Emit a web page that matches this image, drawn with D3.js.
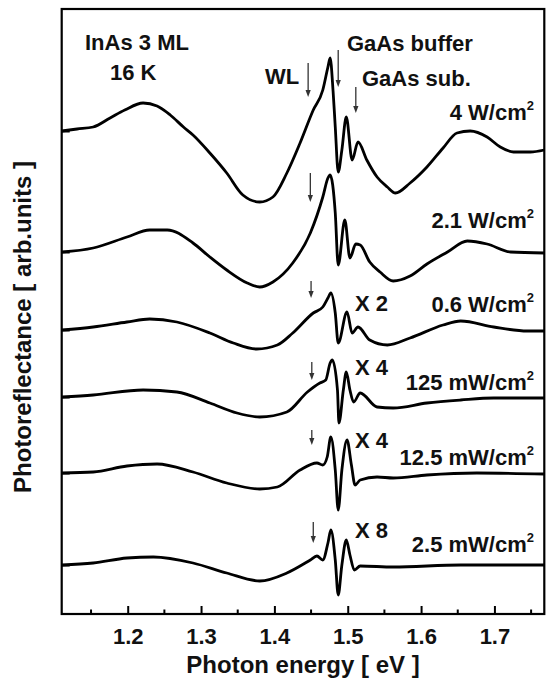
<!DOCTYPE html>
<html><head><meta charset="utf-8">
<script src="https://cdn.jsdelivr.net/npm/d3@7"></script>
<style>
html,body{margin:0;padding:0;background:#fff;}
svg text{font-family:"Liberation Sans",Arial,Helvetica,sans-serif;font-weight:bold;fill:#111;}
</style></head>
<body>
<svg id="chart" width="546" height="682"></svg>
<script>
// ---------------- data ----------------
const xTicks = [1.2, 1.3, 1.4, 1.5, 1.6, 1.7];
const powerLabels = ["4 W/cm", "2.1 W/cm", "0.6 W/cm", "125 mW/cm", "12.5 mW/cm", "2.5 mW/cm"];
const scaleLabels = ["", "", "X 2", "X 4", "X 4", "X 8"];
// zero level (offset) of each spectrum, arb. units
const offsets = [48.3, 36.2, 28.4, 21.7, 14.1, 4.9];

// spectra: [photon energy (eV), photoreflectance (arb. units, relative to offset)]
const spec4W = [[1.110,0.0],[1.131,0.2],[1.153,0.4],[1.176,1.3],[1.196,2.1],[1.221,2.8],[1.240,2.5],[1.258,1.6],[1.276,0.4],[1.289,-0.4],[1.312,-2.2],[1.335,-4.2],[1.357,-6.4],[1.380,-7.1],[1.398,-6.6],[1.417,-4.2],[1.435,-1.2],[1.453,2.1],[1.466,4.1],[1.473,6.4],[1.476,7.3],[1.480,4.0],[1.483,0.4],[1.487,-4.1],[1.492,-1.9],[1.498,1.4],[1.506,-2.9],[1.514,-1.1],[1.526,-2.9],[1.540,-4.6],[1.554,-5.6],[1.565,-6.2],[1.585,-5.2],[1.608,-3.6],[1.630,-1.7],[1.649,-0.2],[1.667,0.0],[1.690,-0.6],[1.708,-1.6],[1.726,-2.1],[1.749,-2.1],[1.768,-1.9]];
const spec2W = [[1.110,0.0],[1.153,0.4],[1.199,1.5],[1.230,2.2],[1.254,2.2],[1.289,0.9],[1.312,-0.5],[1.335,-1.8],[1.363,-3.1],[1.380,-3.5],[1.398,-3.0],[1.425,-1.1],[1.449,1.9],[1.466,5.5],[1.473,7.4],[1.476,7.7],[1.483,3.9],[1.487,-1.3],[1.496,3.2],[1.503,-0.6],[1.511,0.8],[1.517,0.7],[1.530,-1.0],[1.544,-2.0],[1.562,-2.9],[1.585,-2.4],[1.608,-1.2],[1.636,0.0],[1.663,1.1],[1.690,0.8],[1.722,0.0],[1.768,-0.1]];
const spec06W = [[1.110,0.0],[1.153,0.3],[1.199,0.8],[1.230,1.1],[1.267,0.8],[1.312,-0.3],[1.344,-1.3],[1.376,-1.9],[1.404,-1.5],[1.425,-0.3],[1.453,1.7],[1.466,2.3],[1.473,3.2],[1.477,3.7],[1.483,1.7],[1.487,-1.3],[1.499,1.8],[1.506,-0.3],[1.514,0.3],[1.530,-1.0],[1.554,-1.5],[1.585,-0.8],[1.630,0.5],[1.654,0.9],[1.699,0.3],[1.745,-0.1],[1.768,-0.1]];
const spec125mW = [[1.110,0.0],[1.153,0.2],[1.221,0.7],[1.267,0.5],[1.312,-0.6],[1.349,-1.6],[1.380,-2.0],[1.417,-1.5],[1.445,0.5],[1.462,1.4],[1.470,1.7],[1.476,3.4],[1.479,3.7],[1.486,0.7],[1.488,-2.6],[1.494,0.7],[1.498,2.5],[1.503,0.7],[1.508,-0.5],[1.517,0.4],[1.540,-1.0],[1.562,-1.1],[1.608,-0.6],[1.654,-0.3],[1.699,-0.1],[1.768,-0.1]];
const spec12mW = [[1.110,0.0],[1.153,0.1],[1.199,0.7],[1.240,0.9],[1.289,0.1],[1.335,-1.0],[1.380,-1.6],[1.404,-1.4],[1.435,0.3],[1.458,1.0],[1.466,0.8],[1.472,1.6],[1.477,3.6],[1.483,0.3],[1.487,-3.7],[1.492,0.3],[1.499,3.3],[1.505,0.8],[1.510,-1.2],[1.517,-0.7],[1.540,-0.4],[1.562,-0.5],[1.608,-0.2],[1.676,0.0],[1.768,-0.1]];
const spec25mW = [[1.110,0.0],[1.153,0.2],[1.199,0.7],[1.235,0.8],[1.289,0.2],[1.335,-0.8],[1.380,-1.6],[1.417,-0.8],[1.449,0.5],[1.458,0.9],[1.466,0.5],[1.473,2.2],[1.477,3.5],[1.483,0.5],[1.487,-3.0],[1.492,0.0],[1.498,2.5],[1.503,1.0],[1.509,-0.5],[1.517,-0.1],[1.562,-0.2],[1.654,0.0],[1.768,0.0]];
const spectra = [spec4W, spec2W, spec06W, spec125mW, spec12mW, spec25mW];

// arrows: [curve index, energy, tail value, tip value]
const arrowsData = [[0,1.446,6.8,3.4],[0,1.487,8.1,4.4],[0,1.511,4.4,1.8],[1,1.449,7.9,5.0],[2,1.450,4.9,3.2],[3,1.451,3.5,1.7],[4,1.451,4.3,2.8],[5,1.453,4.3,2.2]];

// ---------------- chart ----------------
const svg = d3.select("#chart");
const L = 61.7, R = 544.3, T = 9, B = 614;
const x = d3.scaleLinear().domain([1.11, 1.768]).range([L, R]);
const y = d3.scaleLinear().domain([0, 60.5]).range([B, T]);

// curves
const line = d3.line().x(d => x(d[0])).y(d => d[1]).curve(d3.curveMonotoneX);
spectra.forEach((s, i) => {
  svg.append("path")
    .attr("d", line(s.map(p => [p[0], y(offsets[i] + p[1])])))
    .attr("fill", "none").attr("stroke", "#000")
    .attr("stroke-width", 2.8).attr("stroke-linejoin", "round");
});

// x axis (major + minor ticks)
const xAxis = d3.axisBottom(x).tickValues(xTicks).tickSize(-8).tickPadding(14).tickFormat(d3.format(".1f"));
const gx = svg.append("g").attr("transform", `translate(0,${B})`).call(xAxis);
gx.select(".domain").remove();
gx.selectAll(".tick line").attr("stroke", "#000").attr("stroke-width", 2);
gx.selectAll(".tick text").attr("font-size", 22).attr("fill", "#111")
  .attr("font-family", "'Liberation Sans',Arial,sans-serif").attr("font-weight", "bold");
const minor = d3.range(1.15, 1.77, 0.1);
svg.append("g").selectAll("line").data(minor).join("line")
  .attr("x1", d => x(d)).attr("x2", d => x(d)).attr("y1", B).attr("y2", B - 4.5)
  .attr("stroke", "#000").attr("stroke-width", 2);

// y axis ticks at each zero level
const yAxis = d3.axisLeft(y).tickValues(offsets).tickSize(-8).tickFormat("");
const gy = svg.append("g").attr("transform", `translate(${L},0)`).call(yAxis);
gy.select(".domain").remove();
gy.selectAll(".tick line").attr("stroke", "#000").attr("stroke-width", 2);

// frame
svg.append("rect").attr("x", L).attr("y", T).attr("width", R - L).attr("height", B - T)
  .attr("fill", "none").attr("stroke", "#000").attr("stroke-width", 2.2);

// arrows
arrowsData.forEach(a => {
  const ax = x(a[1]), y0 = y(offsets[a[0]] + a[2]), y1 = y(offsets[a[0]] + a[3]);
  svg.append("line").attr("x1", ax).attr("x2", ax).attr("y1", y0).attr("y2", y1 - 5)
    .attr("stroke", "#333").attr("stroke-width", 1.3);
  svg.append("path").attr("d", `M${ax - 2.6},${y1 - 7}L${ax + 2.6},${y1 - 7}L${ax},${y1}Z`).attr("fill", "#333");
});

// labels
function txt(s, tx, ty, anchor) {
  return svg.append("text").attr("x", tx).attr("y", ty).attr("font-size", 22)
    .attr("text-anchor", anchor || "start").text(s);
}
txt("InAs 3 ML", 85, 50);
txt("16 K", 110, 80);
txt("WL", 265, 84);
txt("GaAs buffer", 347, 51);
txt("GaAs sub.", 362, 86);

const powerY = [120, 228, 312, 390, 465, 552];
powerLabels.forEach((p, i) => {
  const t = svg.append("text").attr("x", 534).attr("y", powerY[i]).attr("font-size", 22).attr("text-anchor", "end");
  t.append("tspan").text(p);
  t.append("tspan").attr("font-size", 13).attr("dy", -10).text("2");
});
const scaleY = [0, 0, 311, 375, 448, 538];
scaleLabels.forEach((s, i) => { if (s) txt(s, 355, scaleY[i]); });

// axis titles
svg.append("text").attr("x", (L + R) / 2).attr("y", 673).attr("text-anchor", "middle")
  .attr("font-size", 24).text("Photon energy [ eV ]");
svg.append("text").attr("transform", `translate(31,${327}) rotate(-90)`).attr("text-anchor", "middle")
  .attr("font-size", 24).text("Photoreflectance [ arb.units ]");
</script>
</body></html>
